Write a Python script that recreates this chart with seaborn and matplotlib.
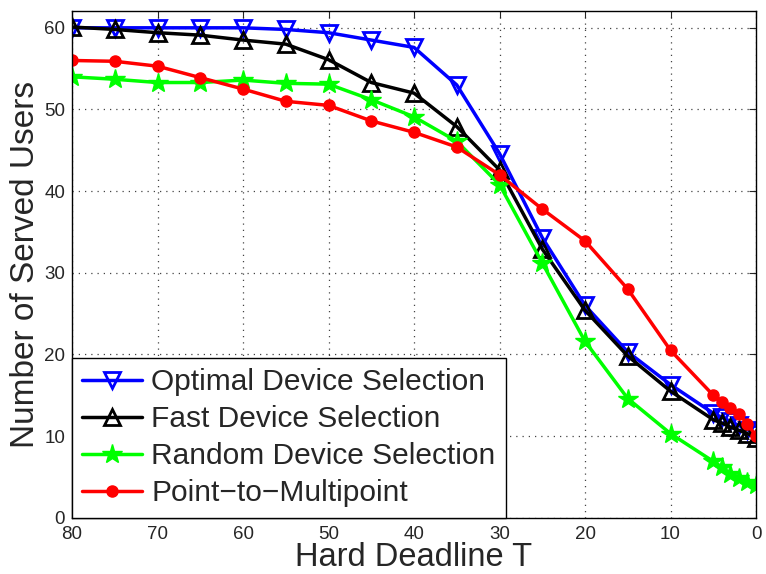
import pandas as pd
import seaborn as sns
import matplotlib.pyplot as plt

T = [80, 75, 70, 65, 60, 55, 50, 45, 40, 35, 30, 25, 20, 15, 10, 5, 4, 3, 2, 1, 0]
optimal = [60, 60, 60, 60, 60, 59.8, 59.4, 58.5, 57.6, 53.0, 44.6, 34.3, 26.0, 20.3, 16.3, 12.8, 12.3, 11.8, 11.3, 10.8, 10.2]
fast = [60.1, 59.8, 59.4, 59.1, 58.5, 58.0, 56.1, 53.3, 52.0, 47.9, 42.6, 32.9, 25.4, 19.8, 15.5, 12.0, 11.6, 11.1, 10.7, 10.3, 9.8]
rand_sel = [54.0, 53.7, 53.3, 53.3, 53.6, 53.2, 53.1, 51.2, 49.1, 46.1, 40.8, 31.2, 21.6, 14.6, 10.3, 6.9, 6.2, 5.4, 4.9, 4.4, 4.0]
p2m = [56.0, 55.9, 55.3, 53.9, 52.5, 51.0, 50.5, 48.6, 47.2, 45.4, 42.0, 37.8, 33.9, 28.0, 20.5, 15.0, 14.2, 13.4, 12.7, 11.5, 10.0]

names = ['Optimal Device Selection', 'Fast Device Selection',
         'Random Device Selection', 'Point\u2212to\u2212Multipoint']
values = [optimal, fast, rand_sel, p2m]
colors = ['#0000ff', '#000000', '#00ff00', '#ff0000']
markers = ['v', '^', '*', 'o']
msizes = [11, 11, 15, 8]
hollow = [True, True, False, False]

sns.set_style('white')
plt.rcParams['font.family'] = ['Liberation Sans', 'DejaVu Sans']

fig = plt.figure(figsize=(7.66, 5.74), dpi=100)
ax = fig.add_axes([0.094, 0.098, 0.893, 0.882])

for name, vals, c, m, ms, h in zip(names, values, colors, markers, msizes, hollow):
    df = pd.DataFrame({'T': T, 'users': vals})
    sns.lineplot(data=df, x='T', y='users', ax=ax, color=c, marker=m,
                 markersize=ms, linewidth=2.5, label=name,
                 markerfacecolor='none' if h else c,
                 markeredgecolor=c, markeredgewidth=2 if h else 1)

ax.set_xlim(80, 0)
ax.set_ylim(0, 62)
ax.set_xticks(range(0, 81, 10))
ax.set_yticks(range(0, 61, 10))
ax.grid(True, linestyle=(0, (1, 4)), color='#444444', linewidth=0.9)
ax.tick_params(direction='in', top=True, right=True, labelsize=13.5, length=5)
ax.tick_params(axis='x', pad=6)
ax.tick_params(axis='y', pad=5)
for s in ax.spines.values():
    s.set_color('black')
    s.set_linewidth(1)

ax.set_xlabel('Hard Deadline T', fontsize=23.5, labelpad=-1)
ax.set_ylabel('Number of Served Users', fontsize=24, labelpad=2)

leg = ax.legend(loc='lower left', fontsize=21.5, borderaxespad=0, frameon=True,
                fancybox=False, edgecolor='black', framealpha=1,
                handlelength=2.0, labelspacing=0.3, borderpad=0.35,
                handletextpad=0.3)
leg.get_frame().set_linewidth(1)

fig.savefig('out.png', dpi=100)
